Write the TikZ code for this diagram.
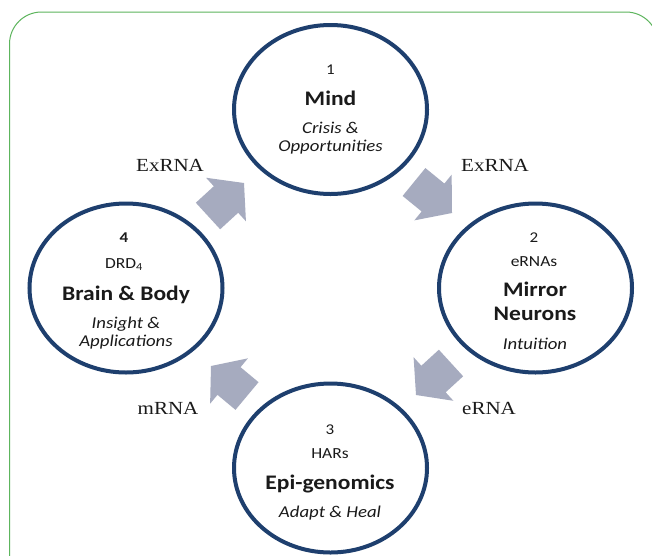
\documentclass[tikz,border=0pt]{standalone}
\usepackage{fontspec}
\setmainfont{Carlito}
\newfontfamily\labelfont{Liberation Serif}
\usetikzlibrary{shapes.geometric,calc}
\definecolor{navy}{HTML}{1E3F6E}
\definecolor{agray}{HTML}{A6ABBF}
\definecolor{fgreen}{HTML}{5DB55D}
\definecolor{ink}{HTML}{1A1A1A}
\tikzset{
 ring/.style={ellipse, draw=navy, line width=4pt, minimum width=193pt, minimum height=169pt, inner sep=0pt},
 txt/.style={anchor=base, inner sep=0pt, yscale=0.88, text=ink},
 num/.style={txt, font=\fontsize{17}{17}\selectfont},
 sub/.style={txt, font=\fontsize{17.5}{17}\selectfont},
 ttl/.style={txt, font=\fontsize{23.5}{23}\selectfont\bfseries},
 itl/.style={txt, font=\fontsize{18.8}{18}\selectfont\itshape},
 lbl/.style={txt, font=\labelfont\fontsize{21}{21}\selectfont},
 blk/.style={fill=agray, draw=none},
}
\newcommand\blockarrow[3]{%
 \coordinate (#3h) at ($(#1)!0.5!(#2)$);
 \fill[blk] ($(#1)!18pt!90:(#2)$) -- ($(#3h)!18pt!90:(#2)$) -- ($(#3h)!29.5pt!90:(#2)$) -- (#2)
   -- ($(#3h)!29.5pt!-90:(#2)$) -- ($(#3h)!18pt!-90:(#2)$) -- ($(#1)!18pt!-90:(#2)$) -- cycle;}
\begin{document}
\begin{tikzpicture}[x=1pt,y=-1pt]
\useasboundingbox (0,0) rectangle (652,555);
\clip (0,0) rectangle (652,555);
\fill[white] (0,0) rectangle (652,555);
\draw[fgreen, line width=1pt, rounded corners=32pt] (9.5,12) rectangle (658,620);

% circles
\node[ring] (c1) at (330.5,109.5) {};
\node[ring] (c2) at (535.5,288) {};
\node[ring] (c3) at (330.5,468) {};
\node[ring] (c4) at (126,288) {};

% circle 1
\node[num] (n1) at (330.5,74) {1};
\node[ttl] (t1) at (330.5,105) {Mind};
\node[itl] (i1a) at (330.5,133) {Crisis \&};
\node[itl] (i1b) at (330.5,151.7) {Opportunities};

% circle 2
\node[num] (n2) at (534,242.7) {2};
\node[sub] (s2) at (534,266.7) {eRNAs};
\node[ttl] (t2a) at (535,296.7) {Mirror};
\node[ttl] (t2b) at (535,320) {Neurons};
\node[itl] (i2) at (535,349) {Intuition};

% circle 3
\node[num] (n3) at (330,434) {3};
\node[sub] (s3) at (330,458) {HARs};
\node[ttl] (t3) at (330,489) {Epi-genomics};
\node[itl] (i3) at (330,517.7) {Adapt \& Heal};

% circle 4
\node[num, font=\fontsize{17}{17}\selectfont\bfseries] (n4) at (124,242.7) {4};
\node[sub] (s4) at (124,268) {DRD\textsubscript{4}};
\node[ttl] (t4) at (126,300) {Brain \& Body};
\node[itl] (i4a) at (126,328) {Insight \&};
\node[itl] (i4b) at (126,346.7) {Applications};

% block arrows
\coordinate (t41) at (208,216); \coordinate (p41) at (244,183);
\coordinate (t12) at (414,182); \coordinate (p12) at (452,213);
\coordinate (t23) at (451,363); \coordinate (p23) at (416,395);
\coordinate (t34) at (247,396); \coordinate (p34) at (211,366);
\blockarrow{t41}{p41}{a41}
\blockarrow{t12}{p12}{a12}
\blockarrow{t23}{p23}{a23}
\blockarrow{t34}{p34}{a34}

% labels
\node[lbl] (l41) at (170,171) {ExRNA};
\node[lbl] (l12) at (495,171) {ExRNA};
\node[lbl] (l34) at (168,414) {mRNA};
\node[lbl] (l23) at (489,414) {eRNA};
\end{tikzpicture}
\end{document}
